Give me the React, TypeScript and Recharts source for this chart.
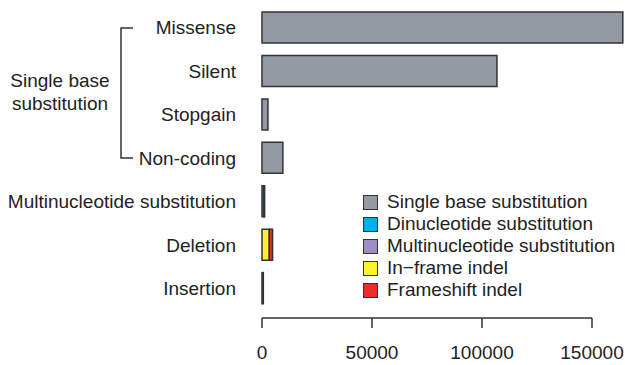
import React from "react"
import { BarChart, Bar, XAxis, YAxis } from "recharts"

const categories = [
  "Missense",
  "Silent",
  "Stopgain",
  "Non-coding",
  "Multinucleotide substitution",
  "Deletion",
  "Insertion",
]

// counts per category, one array per mutation class
const singleBase = [164000, 106800, 2700, 9500, 0, 0, 0]
const dinucleotide = [0, 0, 0, 0, 900, 0, 0]
const multinucleotide = [0, 0, 0, 0, 300, 0, 0]
const inFrame = [0, 0, 0, 0, 0, 3300, 300]
const frameshift = [0, 0, 0, 0, 0, 1500, 300]

const xTicks = [0, 50000, 100000, 150000]

const series = [
  { key: "single", name: "Single base substitution", color: "#939aa3", values: singleBase },
  { key: "di", name: "Dinucleotide substitution", color: "#00aeef", values: dinucleotide },
  { key: "multi", name: "Multinucleotide substitution", color: "#a08dc6", values: multinucleotide },
  { key: "inframe", name: "In\u2212frame indel", color: "#fff22d", values: inFrame },
  { key: "frameshift", name: "Frameshift indel", color: "#ee2a2a", values: frameshift },
]

const data = categories.map((cat, i) => {
  const row: Record<string, string | number> = { cat }
  series.forEach((s) => (row[s.key] = s.values[i]))
  return row
})

const W = 625
const H = 365
const Y_AXIS_W = 262
const PLOT_W = W - Y_AXIS_W
const X_MAX = 165000
const FONT = "'Liberation Sans', Arial, Helvetica, sans-serif"
const FS = 19
const TEXT = "#222222"
const STROKE = "#333333"

// R-style axis: line only spans the first to last tick, dropped below the plot
function XTick(props: any) {
  const { x, y, payload, index } = props
  const top = y + 8
  const span = (xTicks[xTicks.length - 1] / X_MAX) * PLOT_W
  return (
    <g>
      {index === 0 && (
        <line x1={x} y1={top} x2={x + span} y2={top} stroke={STROKE} strokeWidth={1.5} />
      )}
      <line x1={x} y1={top} x2={x} y2={top + 10} stroke={STROKE} strokeWidth={1.5} />
      <text x={x} y={top + 41} textAnchor="middle" fontSize={FS} fill={TEXT} fontFamily={FONT}>
        {payload.value}
      </text>
    </g>
  )
}

function LegendBox() {
  return (
    <div
      style={{
        position: "absolute",
        left: 363,
        top: 191,
        fontFamily: FONT,
        fontSize: FS,
        color: TEXT,
        lineHeight: "22px",
        whiteSpace: "nowrap",
      }}
    >
      {series.map((s) => (
        <div key={s.key} style={{ display: "flex", alignItems: "center" }}>
          <span
            style={{
              display: "inline-block",
              width: 13,
              height: 13,
              background: s.color,
              border: `1.5px solid ${STROKE}`,
              marginRight: 9,
            }}
          />
          {s.name}
        </div>
      ))}
    </div>
  )
}

export default function App() {
  return (
    <div style={{ position: "absolute", left: 0, top: 0, width: W, height: H, background: "#fff" }}>
      <BarChart
        width={W}
        height={H}
        data={data}
        layout="vertical"
        margin={{ top: 6, right: 0, bottom: 0, left: 0 }}
        barCategoryGap="14%"
      >
        <XAxis
          type="number"
          domain={[0, X_MAX]}
          ticks={xTicks}
          axisLine={false}
          tickLine={false}
          tickSize={0}
          tickMargin={0}
          tick={<XTick />}
          height={55}
        />
        <YAxis
          type="category"
          dataKey="cat"
          width={Y_AXIS_W}
          axisLine={false}
          tickLine={false}
          tickSize={0}
          tickMargin={26}
          tick={{ fontSize: FS, fill: TEXT, fontFamily: FONT }}
          interval={0}
        />
        {series.map((s) => (
          <Bar
            key={s.key}
            dataKey={s.key}
            name={s.name}
            stackId="a"
            fill={s.color}
            stroke={STROKE}
            strokeWidth={1.5}
            isAnimationActive={false}
          />
        ))}
      </BarChart>
      <LegendBox />
      <svg
        width={140}
        height={H}
        style={{ position: "absolute", left: 0, top: 0, pointerEvents: "none" }}
      >
        <path d="M133 28 H121 V158 H133" fill="none" stroke={STROKE} strokeWidth={1.5} />
        <text x={60} y={87} textAnchor="middle" fontSize={FS} fill={TEXT} fontFamily={FONT}>
          Single base
        </text>
        <text x={60} y={110} textAnchor="middle" fontSize={FS} fill={TEXT} fontFamily={FONT}>
          substitution
        </text>
      </svg>
    </div>
  )
}
